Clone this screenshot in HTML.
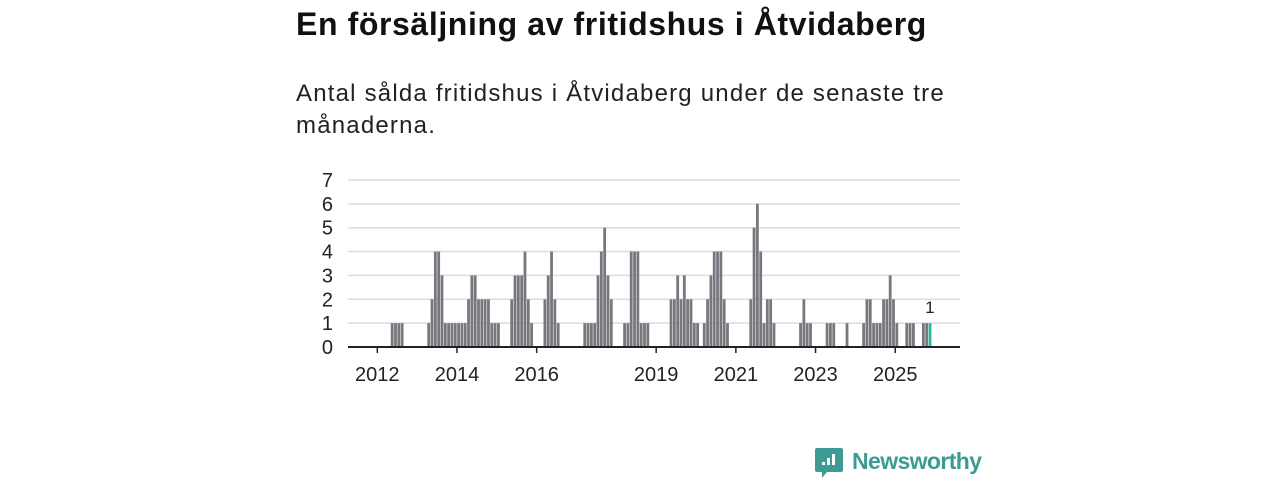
<!DOCTYPE html>
<html><head><meta charset="utf-8"><style>
body{margin:0;background:#fff;font-family:"Liberation Sans","DejaVu Sans",sans-serif;color:#111;}
#wrap{position:relative;width:1280px;height:480px;overflow:hidden;}
h1{position:absolute;left:296px;top:6px;margin:0;font-size:32px;font-weight:bold;letter-spacing:0.6px;}
p.sub{position:absolute;left:296px;top:78px;margin:0;font-size:24px;line-height:32px;width:700px;color:#222;letter-spacing:1.2px;}
svg{position:absolute;left:0;top:0;}
</style></head><body>
<div id="wrap">
<h1>En försäljning av fritidshus i Åtvidaberg</h1>
<p class="sub">Antal sålda fritidshus i Åtvidaberg under de senaste tre månaderna.</p>
<svg id="chart" width="1280" height="480"></svg>
</div>
<script>
const startYear = 2012;
const values = [
0,0,0,0,1,1,1,1,0,0,0,0,
0,0,0,1,2,4,4,3,1,1,1,1,
1,1,1,2,3,3,2,2,2,2,1,1,
1,0,0,0,2,3,3,3,4,2,1,0,
0,0,2,3,4,2,1,0,0,0,0,0,
0,0,1,1,1,1,3,4,5,3,2,0,
0,0,1,1,4,4,4,1,1,1,0,0,
0,0,0,0,2,2,3,2,3,2,2,1,
1,0,1,2,3,4,4,4,2,1,0,0,
0,0,0,0,2,5,6,4,1,2,2,1,
0,0,0,0,0,0,0,1,2,1,1,0,
0,0,0,1,1,1,0,0,0,1,0,0,
0,0,1,2,2,1,1,1,2,2,3,2,
1,0,0,1,1,1,0,0,1,1,1
];
const yTicks = [0,1,2,3,4,5,6,7];
const xTickYears = [2012,2014,2016,2019,2021,2023,2025];

const NS='http://www.w3.org/2000/svg';
const svg=document.getElementById('chart');
const X0=377.3, MW=3.32, Y0=347, YU=23.86, L=348, R=960;
function x(m){return X0+m*MW;}
function y(v){return Y0-v*YU;}
function mk(t,a){const e=document.createElementNS(NS,t);for(const k in a)e.setAttribute(k,a[k]);svg.appendChild(e);return e;}

yTicks.forEach(v=>{
  if(v>0){const g=mk('line',{x1:L,x2:R,y1:y(v),y2:y(v),stroke:'#dcdcdc','stroke-width':1.5});
  
  }
  const t=mk('text',{x:333,y:y(v)+7,'text-anchor':'end','font-size':20,fill:'#222'});
  t.textContent=v;
  
  
});
values.forEach((v,i)=>{
  if(v<=0)return;
  const last=i===values.length-1;
  const b=mk('rect',{x:x(i)+0.2,y:y(v),width:2.8,height:v*YU,fill:last?'#2bb5a0':'#77777e'});
  
  
  if(last){const t=mk('text',{x:x(i)+1.5,y:y(v)-10,'text-anchor':'middle','font-size':17,fill:'#222'});
  t.textContent=v;
  
  }
});
const ax=mk('line',{x1:L,x2:R,y1:Y0,y2:Y0,stroke:'#222','stroke-width':2});


xTickYears.forEach(yr=>{
  const px=x((yr-startYear)*12);
  const tk=mk('line',{x1:px,x2:px,y1:Y0,y2:Y0+6,stroke:'#222','stroke-width':1.5});
  
  
  const t=mk('text',{x:px,y:381,'text-anchor':'middle','font-size':20,fill:'#222'});
  t.textContent=yr;
  
  
});
const lg=mk('g',{});


const r=mk('path',{d:'M817 448 h24 a2 2 0 0 1 2 2 v20 a2 2 0 0 1 -2 2 h-14 l-5 6 v-6 h-5 a2 2 0 0 1 -2 -2 v-20 a2 2 0 0 1 2 -2z',fill:'#3d9b95'});
lg.appendChild(r);
[[822,462,3],[827,458,7],[832,454,11]].forEach(a=>{const b=mk('rect',{x:a[0],y:a[1],width:3,height:a[2],fill:'#fff'});lg.appendChild(b);});
const lt=mk('text',{x:852,y:469,'font-size':23,'font-weight':'bold',fill:'#3d9b95','textLength':130});
lt.textContent='Newsworthy';
lg.appendChild(lt);
</script>
</body></html>
